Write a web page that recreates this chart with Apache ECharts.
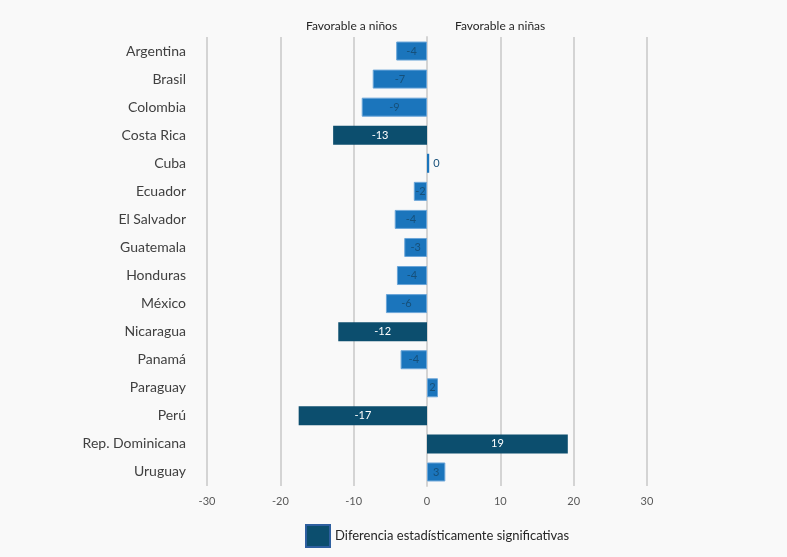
<!DOCTYPE html>
<html><head><meta charset="utf-8">
<script src="https://cdn.jsdelivr.net/npm/echarts@6/dist/echarts.min.js"></script>
<style>html,body{margin:0;padding:0;background:#f9f9f9}#c{width:787px;height:557px}</style>
</head><body><div id="c"></div>
<script>
const categories = ["Argentina","Brasil","Colombia","Costa Rica","Cuba","Ecuador","El Salvador","Guatemala","Honduras","México","Nicaragua","Panamá","Paraguay","Perú","Rep. Dominicana","Uruguay"];
const values = [-4.2,-7.4,-8.9,-12.8,0.3,-1.8,-4.4,-3.1,-4.1,-5.6,-12.1,-3.6,1.5,-17.5,19.2,2.5];
const significant = [false,false,false,true,false,false,false,false,false,false,true,false,false,true,true,false];
const xTicks = [-30,-20,-10,0,10,20,30];
const sigName = "Diferencia estadísticamente significativas";
const otherName = "Diferencia no significativa";

const FONT = "Lato";
const chart = echarts.init(document.getElementById('c'));
const fmt = p => String(Math.round(p.value));
const sigData = values.map((v,i)=> significant[i] ? v : null);
const otherData = values.map((v,i)=> {
  if (significant[i]) return null;
  if (Math.round(v) === 0) return {value: v, itemStyle: {borderWidth: 0}, label: {position: 'right', distance: 4}};
  return v;
});
chart.setOption({
  backgroundColor: '#f9f9f9',
  animation: false,
  textStyle: {fontFamily: FONT},
  grid: {left: 207, right: 140, top: 37, bottom: 71},
  xAxis: {
    type: 'value', min: xTicks[0], max: xTicks[xTicks.length-1], interval: 10,
    axisLine: {show: false}, axisTick: {show: false},
    axisLabel: {color: '#595959', fontSize: 11, fontFamily: FONT, margin: 10},
    splitLine: {lineStyle: {color: '#d4d4d4', width: 2}}
  },
  yAxis: {
    type: 'category', data: categories, inverse: true,
    axisLine: {show: true, onZero: true, lineStyle: {color: '#d4d4d4', width: 2}},
    axisTick: {show: false},
    axisLabel: {color: '#404040', fontSize: 14, fontFamily: FONT, margin: 21}
  },
  legend: {
    bottom: 9, left: 305, padding: 0, itemWidth: 24, itemHeight: 22, itemGap: 8,
    icon: 'rect',
    textStyle: {color: '#262626', fontSize: 13, fontFamily: FONT},
    data: [{name: sigName, itemStyle: {borderColor: '#2e5f9f', borderWidth: 2}}]
  },
  series: [
    {name: otherName, type: 'bar', stack: 'a', data: otherData, barWidth: 19,
     itemStyle: {color: '#1b75bc', borderColor: '#6aa5d8', borderWidth: 1},
     label: {show: true, position: 'inside', color: '#16507a', fontSize: 11, fontFamily: FONT, formatter: fmt}},
    {name: sigName, type: 'bar', stack: 'a', data: sigData, barWidth: 19,
     itemStyle: {color: '#0c4e6e'},
     label: {show: true, position: 'inside', color: '#ffffff', fontSize: 11, fontFamily: FONT, formatter: fmt}}
  ],
  graphic: [
    {type: 'text', left: 306, top: 20, style: {text: 'Favorable a niños', fill: '#262626', font: '12px ' + FONT}},
    {type: 'text', left: 455, top: 20, style: {text: 'Favorable a niñas', fill: '#262626', font: '12px ' + FONT}}
  ]
});
</script></body></html>
